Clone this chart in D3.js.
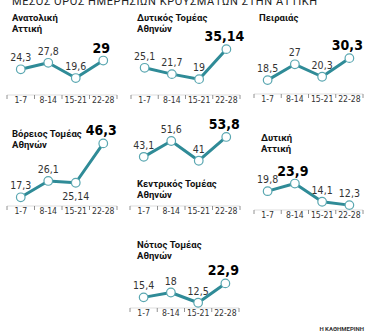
<!DOCTYPE html>
<html>
<head>
<meta charset="utf-8">
<style>
  body { margin: 0; background: #fff; }
  svg { display: block; }
  .ttl { font-family: Roboto, "Open Sans", sans-serif; font-weight: 700; font-size: 9.5px; fill: #111; }
  .val { font-family: "Liberation Sans Narrow", "DejaVu Sans Condensed", sans-serif; font-size: 10.5px; fill: #333; }
  .big { font-family: "Liberation Sans Narrow", "DejaVu Sans Condensed", sans-serif; font-weight: 700; font-size: 14px; fill: #000; }
  .tick text { font-family: "Liberation Sans Narrow", "DejaVu Sans Condensed", sans-serif; font-size: 8.6px; fill: #333; }
</style>
<script src="https://d3js.org/d3.v7.min.js"></script>
</head>
<body>
<svg id="chart" width="367" height="332"></svg>
<script>
var weeks = ["1-7", "8-14", "15-21", "22-28"];

var anatoliki   = [24.3, 27.8, 19.6, 29];
var dytikosTom  = [25.1, 21.7, 19, 35.14];
var peiraias    = [18.5, 27, 20.3, 30.3];
var voreios     = [17.3, 26.1, 25.14, 46.3];
var kentrikos   = [43.1, 51.6, 41, 53.8];
var dytiki      = [19.8, 23.9, 14.1, 12.3];
var notios      = [15.4, 18, 12.5, 22.9];

var labels = {
  anatoliki:  ["24,3", "27,8", "19,6", "29"],
  dytikosTom: ["25,1", "21,7", "19", "35,14"],
  peiraias:   ["18,5", "27", "20,3", "30,3"],
  voreios:    ["17,3", "26,1", "25,14", "46,3"],
  kentrikos:  ["43,1", "51,6", "41", "53,8"],
  dytiki:     ["19,8", "23,9", "14,1", "12,3"],
  notios:     ["15,4", "18", "12,5", "22,9"]
};

var teal = "#2f8b97";
var svg = d3.select("#chart");

// header (cut at top in the original)
svg.append("text").attr("x", 12).attr("y", 5)
  .style("font-family", "Roboto, sans-serif").style("font-size", "11px")
  .style("letter-spacing", "0.6px").style("fill", "#222")
  .text("ΜΕΣΟΣ ΟΡΟΣ ΗΜΕΡΗΣΙΩΝ ΚΡΟΥΣΜΑΤΩΝ ΣΤΗΝ ΑΤΤΙΚΗ");

svg.append("text").attr("x", 364).attr("y", 331).attr("text-anchor", "end")
  .style("font-family", "Roboto, sans-serif").style("font-size", "6px")
  .style("font-weight", "700").style("fill", "#333")
  .text("Η ΚΑΘΗΜΕΡΙΝΗ");

// same vertical scale for every panel, ~1.86 px per case
var y = d3.scaleLinear().domain([0, 60]).range([0, -111.6]);

var panels = [
  {key: "anatoliki",  data: anatoliki,  x0: 7,   x1: 117, base: 114.5, axisY: 105, title: ["Ανατολική", "Αττική"], tx: 12, ty: 21, below: []},
  {key: "dytikosTom", data: dytikosTom, x0: 131, x1: 240, base: 114.5, axisY: 105, title: ["Δυτικός Τομέας", "Αθηνών"], tx: 137, ty: 21, below: []},
  {key: "peiraias",   data: peiraias,   x0: 254, x1: 363, base: 114.5, axisY: 104, title: ["Πειραιάς"], tx: 259, ty: 21, below: []},
  {key: "voreios",    data: voreios,    x0: 7,   x1: 117, base: 229.5, axisY: 216, title: ["Βόρειος Τομέας", "Αθηνών"], tx: 12, ty: 137, below: [2]},
  {key: "kentrikos",  data: kentrikos,  x0: 130, x1: 240, base: 237,   axisY: 216, title: ["Κεντρικός Τομέας", "Αθηνών"], tx: 137, ty: 187, below: []},
  {key: "dytiki",     data: dytiki,     x0: 254, x1: 363, base: 228,   axisY: 220, title: ["Δυτική", "Αττική"], tx: 261, ty: 141, below: []},
  {key: "notios",     data: notios,     x0: 130, x1: 239, base: 326,   axisY: 318, title: ["Νότιος Τομέας", "Αθηνών"], tx: 137, ty: 248, below: []}
];

panels.forEach(function(p) {
  var x = d3.scaleBand().domain(weeks).range([p.x0, p.x1]);
  var cx = function(d, i) { return x(weeks[i]) + x.bandwidth() / 2; };
  var cy = function(d) { return p.base + y(d); };
  var g = svg.append("g");

  // title
  var t = g.append("text").attr("class", "ttl").attr("x", p.tx).attr("y", p.ty);
  p.title.forEach(function(line, i) {
    t.append("tspan").attr("x", p.tx).attr("dy", i == 0 ? 0 : 11).text(line);
  });

  // axis: thin line with separators
  var ay = p.axisY - 10;
  g.append("line").attr("x1", p.x0).attr("x2", p.x1).attr("y1", ay).attr("y2", ay)
    .attr("stroke", "#c8c8c8").attr("stroke-width", 0.6);
  g.selectAll(".sep").data(weeks.concat(["end"])).enter().append("line")
    .attr("x1", function(d, i) { return p.x0 + i * x.bandwidth(); })
    .attr("x2", function(d, i) { return p.x0 + i * x.bandwidth(); })
    .attr("y1", ay).attr("y2", ay + 4)
    .attr("stroke", "#777").attr("stroke-width", 0.8);

  var axis = g.append("g").attr("transform", "translate(0," + (p.axisY - 8) + ")")
    .call(d3.axisBottom(x).tickSize(0).tickPadding(0));
  axis.select(".domain").remove();
  axis.selectAll(".tick text").attr("dy", "0.71em");

  // line
  var line = d3.line().x(cx).y(cy);
  g.append("path").datum(p.data).attr("d", line)
    .attr("fill", "none").attr("stroke", teal).attr("stroke-width", 3)
    .attr("stroke-linejoin", "round");

  g.selectAll("circle").data(p.data).enter().append("circle")
    .attr("cx", cx).attr("cy", cy).attr("r", 4.3)
    .attr("fill", "#fff").attr("stroke", "#5aa7b1").attr("stroke-width", 1.2);

  // value labels, biggest one in bold
  var maxV = d3.max(p.data);
  g.selectAll(".lbl").data(p.data).enter().append("text")
    .attr("class", function(d) { return d == maxV ? "big" : "val"; })
    .attr("text-anchor", "middle")
    .attr("x", function(d, i) { return cx(d, i) + (d == maxV ? -2 : 0); })
    .attr("y", function(d, i) {
      if (p.below.indexOf(i) >= 0) return cy(d) + 17;
      return cy(d) - 8;
    })
    .text(function(d, i) { return labels[p.key][i]; });
});
</script>
</body>
</html>
